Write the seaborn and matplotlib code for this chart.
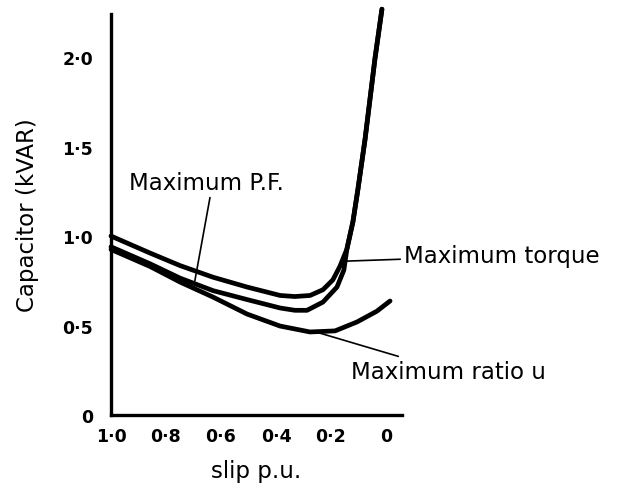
import matplotlib
matplotlib.use("Agg")
import matplotlib.pyplot as plt
import seaborn as sns
import pandas as pd

# ---- data ----
slip_pf = [1.0, 0.858, 0.749, 0.629, 0.505, 0.385, 0.331, 0.276, 0.229, 0.193, 0.167,
           0.142, 0.12, 0.102, 0.076, 0.058, 0.04, 0.0145]
cap_pf = [1.0, 0.905, 0.835, 0.77, 0.715, 0.668, 0.662, 0.668, 0.70, 0.755, 0.832,
          0.927, 1.08, 1.26, 1.54, 1.765, 1.99, 2.268]

slip_torque = [1.0, 0.858, 0.749, 0.629, 0.505, 0.385, 0.331, 0.287, 0.229, 0.178, 0.153,
               0.142, 0.12, 0.102, 0.076, 0.058, 0.04, 0.0145]
cap_torque = [0.94, 0.845, 0.765, 0.695, 0.645, 0.598, 0.585, 0.585, 0.631, 0.715, 0.81,
              0.927, 1.08, 1.26, 1.54, 1.765, 1.99, 2.268]

slip_ratio = [1.0, 0.858, 0.749, 0.629, 0.505, 0.385, 0.276, 0.185, 0.105, 0.033, -0.015]
cap_ratio = [0.925, 0.83, 0.743, 0.659, 0.564, 0.497, 0.464, 0.47, 0.52, 0.58, 0.637]

curve_names = ["Maximum P.F.", "Maximum torque", "Maximum ratio u"]
x_ticks = [1.0, 0.8, 0.6, 0.4, 0.2, 0.0]
x_tick_labels = ["1·0", "0·8", "0·6", "0·4", "0·2", "0"]
y_ticks = [0.0, 0.5, 1.0, 1.5, 2.0]
y_tick_labels = ["0", "0·5", "1·0", "1·5", "2·0"]

df = pd.concat([
    pd.DataFrame({"slip": slip_pf, "cap": cap_pf, "curve": curve_names[0]}),
    pd.DataFrame({"slip": slip_torque, "cap": cap_torque, "curve": curve_names[1]}),
    pd.DataFrame({"slip": slip_ratio, "cap": cap_ratio, "curve": curve_names[2]}),
], ignore_index=True)

sns.set_style("white")
plt.rcParams["font.family"] = ["DejaVu Sans"]
plt.rcParams["text.color"] = "black"
plt.rcParams["axes.labelcolor"] = "black"

fig = plt.figure(figsize=(6.25, 4.89), dpi=100)
ax = fig.add_axes([0.1776, 0.1493, 0.4654, 0.8197])

sns.lineplot(data=df, x="slip", y="cap", hue="curve",
             palette=["black"] * 3, linewidth=3.4, legend=False, ax=ax,
             estimator=None, sort=False)
for ln in ax.lines:
    ln.set_clip_on(False)
    ln.set_solid_capstyle("round")
    ln.set_solid_joinstyle("round")

ax.set_xlim(1.0, -0.058)
ax.set_ylim(0, 2.24)

ax.set_xticks(x_ticks)
ax.set_xticklabels(x_tick_labels, fontsize=12.5, fontweight="bold", color="black")
ax.set_yticks(y_ticks)
ax.set_yticklabels(y_tick_labels, fontsize=12.5, fontweight="bold", color="black")
ax.tick_params(axis="y", direction="out", length=10, width=2.2, pad=3, colors="black")
ax.tick_params(axis="x", direction="out", length=6, width=2.2, pad=3, colors="black")
ax.yaxis.get_major_ticks()[0].tick1line.set_visible(False)
ax.xaxis.get_major_ticks()[0].tick1line.set_visible(False)

sns.despine(ax=ax)
for s in ["left", "bottom"]:
    ax.spines[s].set_linewidth(2.4)
    ax.spines[s].set_color("black")

ax.set_xlabel("slip p.u.", fontsize=16.5, labelpad=10, color="black")
ax.set_ylabel("Capacitor (kVAR)", fontsize=16.5, labelpad=17, color="black")

line_kw = dict(arrowstyle="-", color="black", lw=1.2, shrinkA=0, shrinkB=0)
ax.text(0.935, 1.30, curve_names[0], fontsize=16.5, ha="left", va="center", color="black")
ax.annotate("", xy=(0.695, 0.75), xytext=(0.64, 1.215),
            annotation_clip=False, arrowprops=line_kw)
ax.annotate(curve_names[1], xy=(0.142, 0.86), xytext=(-0.064, 0.89),
            ha="left", va="center", fontsize=16.5, annotation_clip=False,
            color="black", arrowprops=line_kw)
ax.annotate(curve_names[2], xy=(0.25, 0.462), xytext=(0.128, 0.245),
            ha="left", va="center", fontsize=16.5, annotation_clip=False,
            color="black", arrowprops=line_kw)

fig.savefig("out.png", dpi=100, facecolor="white")
